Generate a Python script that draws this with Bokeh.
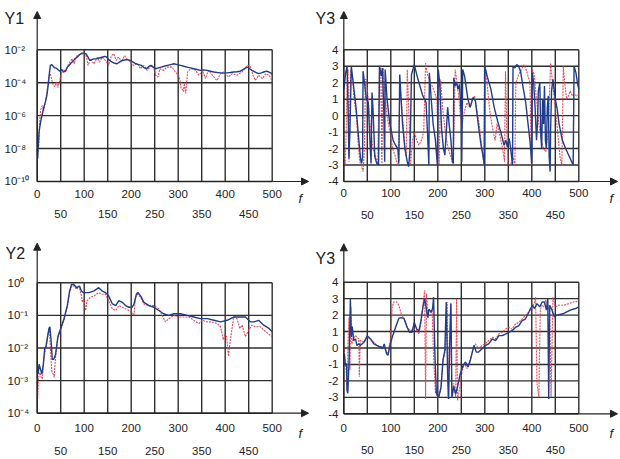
import math
from bokeh.plotting import figure
from bokeh.layouts import column, row
from bokeh.models import Arrow, NormalHead, Range1d
from bokeh.core.properties import value
from bokeh.embed import file_html
from bokeh.resources import INLINE

# ---------------- data ----------------
x_grid = [0, 50, 100, 150, 200, 250, 300, 350, 400, 450, 500]
x_ticks_row1 = [0, 100, 200, 300, 400, 500]
x_ticks_row2 = [50, 150, 250, 350, 450]
y1_ticks = [1e-10, 1e-8, 1e-6, 1e-4, 1e-2]
y2_ticks = [1e-4, 1e-3, 1e-2, 1e-1, 1e0]
y3_ticks = [-4, -3, -2, -1, 0, 1, 2, 3, 4]

# Y1: pairs (f, log10 Y1)
y1_blue = [(1, -8.6), (2, -8.0), (4, -7.0), (6, -6.6), (8.5, -6.2), (11, -5.9), (14, -5.5),
           (18, -5.1), (21, -4.7), (24, -4.0), (26, -3.4), (28, -2.95), (31, -2.9), (34, -3.0),
           (37, -3.1), (40, -3.1), (44, -3.2), (48, -3.3), (52, -3.2), (56, -3.35), (60, -3.3),
           (64, -3.05), (68, -2.95), (72, -2.8), (76, -2.7), (80, -2.55), (85, -2.45), (90, -2.3),
           (95, -2.2), (100, -2.2), (104, -2.25), (108, -2.45), (112, -2.65), (116, -2.6),
           (120, -2.55), (126, -2.55), (132, -2.5), (138, -2.45), (144, -2.4), (148, -2.45),
           (152, -2.6), (157, -2.7), (163, -2.8), (170, -2.85), (175, -2.75), (180, -2.65),
           (186, -2.62), (192, -2.6), (198, -2.65), (204, -2.75), (210, -2.85), (216, -2.9),
           (222, -2.95), (228, -3.1), (233, -3.15), (238, -3.0), (242, -2.95), (247, -3.05),
           (252, -3.15), (258, -3.1), (264, -3.05), (270, -3.0), (277, -2.95), (284, -2.9),
           (291, -2.85), (298, -2.9), (305, -2.95), (312, -3.0), (319, -3.05), (326, -3.1),
           (333, -3.15), (340, -3.2), (347, -3.25), (354, -3.22), (362, -3.25), (369, -3.3),
           (376, -3.35), (383, -3.38), (390, -3.4), (397, -3.42), (404, -3.4), (411, -3.38),
           (418, -3.35), (425, -3.33), (432, -3.3), (438, -3.2), (444, -3.1), (448, -3.05),
           (452, -3.15), (457, -3.25), (464, -3.35), (471, -3.45), (477, -3.4), (482, -3.35),
           (488, -3.3), (493, -3.35), (497, -3.4), (500, -3.5)]
y1_red = [(2, -8.2), (3, -7.9), (5, -6.5), (7, -5.7), (9, -5.5), (11, -5.4), (14, -5.7), (18, -5.1),
          (21, -4.5), (25, -3.55), (28, -3.45), (30, -3.7), (33, -4.05), (37, -4.25), (41, -3.95),
          (44, -4.3), (48, -3.85), (53, -3.25), (57, -3.2), (60, -3.35), (64, -3.1), (67, -2.85),
          (71, -2.7), (74, -2.55), (79, -2.85), (82, -2.5), (85, -2.35), (90, -2.3), (96, -2.25),
          (100, -2.2), (103, -2.25), (106, -2.6), (108, -2.95), (110, -2.8), (113, -2.55),
          (117, -2.7), (121, -2.85), (125, -2.6), (128, -2.45), (133, -2.75), (138, -2.45),
          (142, -2.55), (145, -2.65), (149, -2.8), (152, -2.95), (155, -2.6), (158, -2.35),
          (163, -2.25), (168, -2.65), (171, -2.5), (174, -2.45), (179, -2.75), (183, -2.5),
          (186, -2.35), (191, -2.55), (195, -2.65), (199, -2.75), (203, -2.9), (206, -2.95),
          (210, -2.85), (213, -2.85), (217, -3.0), (220, -3.15), (224, -3.0), (227, -2.95),
          (231, -3.1), (234, -3.25), (240, -3.05), (245, -2.95), (249, -3.2), (252, -3.55),
          (257, -3.65), (261, -3.15), (265, -3.2), (269, -3.25), (276, -3.05), (281, -3.05),
          (287, -3.05), (294, -3.35), (301, -3.55), (304, -3.9), (306, -4.35), (309, -4.4),
          (311, -4.55), (313, -4.05), (316, -4.65), (318, -4.0), (320, -3.35), (325, -3.2),
          (330, -3.15), (337, -3.25), (344, -3.55), (348, -3.4), (351, -3.25), (355, -3.5),
          (358, -3.75), (361, -3.5), (365, -3.25), (370, -3.45), (376, -3.65), (380, -3.8),
          (383, -3.85), (387, -3.6), (390, -3.45), (397, -3.35), (403, -3.55), (408, -3.65),
          (412, -3.5), (415, -3.45), (420, -3.5), (425, -3.55), (430, -3.45), (436, -3.35),
          (440, -3.2), (444, -3.05), (447, -2.95), (450, -2.95), (454, -3.05), (457, -3.3),
          (459, -3.55), (464, -3.85), (468, -3.7), (471, -3.55), (475, -3.65), (479, -3.75),
          (483, -3.6), (486, -3.45), (490, -3.5), (493, -3.55), (497, -3.7), (500, -3.95)]

# Y3 (top right): pairs (f, Y3)
y3a_blue = [(0, 1.6), (4, 2.6), (7, 3.0), (9, 0.5), (11, -2.6), (13, -1.0), (16, 3.0), (20, 2.0),
            (26, 0.5), (32, -1.5), (36, -2.7), (38, -2.9), (40, -2.5), (41, 2.7), (44, 2.0),
            (48, 1.0), (52, 0.8), (56, -1.8), (58, -2.9), (60, 1.4), (62, 0.5), (66, -2.5),
            (70, -2.9), (74, -3.0), (76, 3.0), (80, 2.4), (82, 2.9), (85, 0.5), (87, -2.8),
            (88, 2.8), (92, 1.0), (98, -0.5), (105, -1.5), (110, -1.8), (115, -2.0), (117, -2.9),
            (119, 2.5), (121, 1.5), (125, -0.5), (130, -2.0), (135, -2.8), (138, -3.1), (141, -2.0),
            (144, 2.5), (150, 3.1), (156, 2.4), (162, 1.8), (168, 1.2), (172, 1.0), (175, 0.8),
            (178, -1.0), (181, -3.0), (182, 2.6), (186, 1.0), (190, -0.5), (195, -1.5), (199, -3.0),
            (201, 2.8), (204, 2.0), (208, -0.8), (212, -2.0), (215, -2.4), (218, -1.0), (221, 0.5),
            (224, -0.5), (228, -1.5), (231, -2.8), (233, -2.9), (234, 2.3), (237, 1.8), (240, 2.0),
            (243, 1.6), (246, 1.9), (248, 1.0), (250, 0.0), (251, -2.8), (253, 2.8), (257, 2.4),
            (264, 1.0), (269, 0.5), (275, 1.1), (280, 0.9), (286, -0.5), (292, -1.8), (296, -2.4),
            (299, -3.0), (300, 3.0), (305, 2.4), (313, 1.6), (320, 0.5), (327, -0.3), (334, -1.0),
            (341, -1.8), (345, -1.5), (348, -1.9), (352, -1.4), (355, -2.0), (359, -3.0), (360, 3.0),
            (364, 2.9), (368, 3.1), (372, 3.0), (376, 2.7), (381, 1.8), (387, 0.8), (392, -0.5),
            (396, -1.5), (400, -2.9), (401, 2.6), (404, 2.0), (407, 0.5), (410, -1.5), (412, -0.5),
            (414, 1.5), (417, 2.0), (419, -1.0), (421, -2.0), (423, 1.0), (425, -0.5), (427, 1.8),
            (429, -1.5), (431, -2.0), (433, 0.5), (435, 1.2), (437, -2.5), (439, -3.4), (440, -1.0),
            (442, 1.5), (445, 2.2), (450, 1.0), (454, 0.4), (458, -0.5), (465, -1.5), (472, -2.0),
            (480, -2.5), (488, -3.0), (490, 3.0), (494, 2.6), (497, 2.0), (500, 1.6)]
y3a_red = [(0, -2.5), (3, -3.0), (5, -1.0), (7, 2.0), (9, 2.8), (11, -2.8), (13, 1.0), (15, 2.8),
           (18, 2.5), (22, 1.0), (27, 0.0), (30, -1.5), (34, -2.8), (38, -3.1), (41, -3.4), (44, -2.0),
           (46, 2.2), (48, 2.2), (52, 1.0), (56, -0.5), (62, -2.0), (68, -2.5), (72, -3.0), (76, 3.1),
           (79, 2.5), (81, -3.0), (84, 2.9), (87, 1.5), (92, 0.0), (98, -1.0), (104, -2.0),
           (110, -2.5), (114, -3.0), (117, -2.8), (119, 2.0), (122, 1.0), (126, -0.5), (130, -2.0),
           (133, -2.5), (135, 2.8), (140, -1.0), (142, -3.0), (146, -1.5), (150, -1.0), (155, -1.5),
           (160, -1.8), (165, -1.5), (170, -1.0), (174, 3.2), (178, 2.5), (185, 2.0), (192, 1.5),
           (198, 1.0), (201, -2.0), (203, -3.0), (206, 2.2), (210, 0.5), (216, -1.0), (222, -2.0),
           (228, -2.5), (233, -3.0), (237, 2.8), (241, 2.0), (245, 1.0), (248, 0.0), (252, -0.5),
           (256, 0.2), (262, 0.8), (268, 0.5), (274, 1.0), (278, 1.2), (282, 0.5), (288, -0.5),
           (294, -2.0), (298, -3.0), (299, 3.0), (303, 2.5), (308, 1.0), (312, 0.0), (318, -1.0),
           (322, -1.5), (326, -0.5), (332, -1.2), (338, -2.0), (342, -2.8), (344, 2.7), (347, -1.0),
           (350, -3.0), (355, -3.0), (360, -2.5), (364, -3.0), (366, 2.0), (372, 2.5), (378, 2.8),
           (383, 3.1), (388, 2.8), (392, 2.4), (396, 2.0), (399, -3.0), (401, 2.8), (405, 2.5),
           (410, 1.0), (415, -0.5), (420, -1.5), (425, -2.0), (430, -2.2), (435, -1.0), (440, 3.2),
           (444, 2.0), (450, 0.5), (455, -1.0), (460, -2.5), (464, -3.0), (467, 3.0), (470, 2.0),
           (474, 1.0), (478, 1.2), (482, 1.5), (486, 1.2), (490, 1.3), (495, 1.2), (500, 1.3)]

# Y2: pairs (f, log10 Y2)
y2_blue = [(2, -2.8), (4, -2.5), (7, -2.65), (10, -2.8), (13, -2.5), (16, -2.0), (18, -2.0),
           (21, -1.75), (25, -1.4), (27, -1.35), (30, -1.85), (32, -2.35), (35, -2.35), (39, -2.2),
           (44, -1.65), (50, -1.4), (57, -1.1), (64, -0.7), (69, -0.25), (73, -0.05), (78, -0.05),
           (84, -0.15), (90, -0.1), (94, -0.25), (98, -0.3), (103, -0.3), (110, -0.3), (121, -0.25),
           (131, -0.15), (138, -0.25), (145, -0.3), (152, -0.4), (160, -0.65), (167, -0.7),
           (174, -0.55), (181, -0.6), (188, -0.7), (195, -0.75), (202, -0.75), (206, -0.65),
           (211, -0.35), (214, -0.3), (220, -0.4), (227, -0.6), (238, -0.7), (248, -0.75),
           (259, -0.85), (269, -0.95), (280, -1.0), (291, -0.95), (305, -0.95), (319, -1.0),
           (333, -1.05), (347, -1.1), (362, -1.1), (376, -1.15), (390, -1.2), (404, -1.15),
           (418, -1.05), (432, -1.05), (443, -1.05), (454, -1.2), (461, -1.2), (471, -1.15),
           (482, -1.3), (493, -1.4), (500, -1.5)]
y2_red = [(1, -3.55), (3, -2.9), (6, -2.75), (8.5, -2.9), (11, -2.95), (14, -2.4), (17, -2.1),
          (20, -1.9), (23, -1.55), (26, -1.45), (28, -2.0), (31, -2.7), (34, -2.8), (36, -2.9),
          (39, -2.3), (44, -1.7), (50, -1.45), (57, -1.15), (64, -0.75), (69, -0.3), (73, -0.1),
          (78, -0.1), (84, -0.2), (89, -0.1), (94, -0.4), (96, -0.6), (99, -0.5), (103, -0.85),
          (106, -0.55), (113, -0.45), (121, -0.4), (131, -0.3), (138, -0.35), (145, -0.35),
          (152, -0.55), (160, -0.8), (167, -0.85), (174, -0.7), (181, -0.75), (188, -0.8),
          (195, -0.85), (202, -0.9), (206, -1.0), (209, -0.45), (214, -0.35), (220, -0.45),
          (227, -0.65), (238, -0.7), (248, -0.7), (259, -0.8), (266, -1.0), (273, -1.2),
          (280, -1.1), (291, -1.0), (301, -1.05), (312, -1.05), (323, -1.05), (333, -1.15),
          (344, -1.25), (351, -1.15), (362, -1.2), (372, -1.2), (383, -1.25), (390, -1.35),
          (396, -1.75), (399, -1.6), (403, -1.65), (407, -2.25), (410, -1.85), (415, -1.35),
          (418, -1.05), (425, -1.1), (431, -1.4), (436, -1.3), (443, -1.65), (450, -1.45),
          (457, -1.3), (464, -1.35), (475, -1.35), (486, -1.5), (500, -1.65)]

# Y3 (bottom right): pairs (f, Y3)
y3b_blue = [(1, -0.35), (3.5, -1.05), (6, -0.95), (7, -2.6), (8.5, -2.75), (11, -0.95), (13, 1.5),
            (14, 3.0), (16, 0.65), (18, 1.3), (21, 0.45), (25, 0.55), (28, 0.15), (32, 0.25),
            (35, 0.15), (43, 0.35), (50, 0.75), (57, 0.55), (64, 0.25), (71, 0.15), (78, 0.05),
            (82, -0.05), (86, 0.25), (91, -0.35), (94, -0.45), (98, 0.15), (103, 0.65), (110, 1.25),
            (117, 1.8), (122, 1.85), (128, 1.8), (135, 1.25), (140, 0.95), (145, 0.95), (150, 1.55),
            (155, 1.15), (160, 1.05), (164, 1.65), (169, 2.6), (172, 3.0), (176, 2.3), (179, 1.85),
            (181, 2.35), (186, 2.2), (189, 2.4), (191, 3.1), (194, -0.55), (197, -2.75), (202, -3.0),
            (207, -2.35), (211, -0.75), (215, -0.15), (218, 2.8), (221, -1.75), (223, -3.1),
            (225, -0.15), (228, 2.7), (230, -3.0), (234, -2.35), (238, -2.8), (242, -2.35),
            (248, -1.55), (254, -1.05), (259, -0.85), (264, -1.15), (269, -0.75), (277, 0.15),
            (282, -0.25), (287, -0.25), (294, -0.05), (301, 0.15), (308, 0.25), (316, 0.55),
            (323, 0.45), (330, 0.75), (337, 0.75), (344, 0.85), (351, 0.95), (358, 1.05),
            (365, 1.25), (372, 1.35), (379, 1.65), (386, 1.75), (394, 2.2), (401, 2.6), (406, 2.4),
            (411, 2.7), (417, 2.5), (422, 2.8), (427, 2.8), (431, 2.3), (434, 3.0), (436, -3.1),
            (438, 2.6), (443, 2.3), (448, 1.9), (454, 2.0), (468, 2.1), (482, 2.3), (493, 2.4),
            (500, 2.5)]
y3b_red = [(1, 0.05), (3, -0.95), (5, -1.35), (7, -2.6), (9, 0.45), (11, 1.85), (13, -1.35),
           (15, 2.5), (17, 0.25), (20, 0.55), (24, 0.75), (28, 0.65), (32, 0.55), (33, -1.75),
           (35, 0.45), (43, 0.35), (50, 0.65), (57, 0.55), (64, 0.35), (71, 0.15), (78, 0.1),
           (85, 0.05), (91, -0.25), (94, -0.35), (99, 0.45), (103, 2.5), (106, 2.8), (112, 2.8),
           (117, 2.6), (122, 2.1), (128, 1.8), (135, 1.25), (142, 1.05), (149, 1.15), (155, 1.05),
           (160, 0.85), (164, 1.45), (169, 2.8), (172, 3.5), (174, -3.1), (176, 3.3), (179, 2.0),
           (181, 2.3), (186, 2.1), (188, 2.3), (191, -0.55), (195, -2.7), (200, -3.0), (206, -2.6),
           (211, -0.75), (216, -0.15), (220, 2.8), (222, -3.1), (224, -0.55), (227, 2.7),
           (230, -2.8), (234, -2.15), (238, -3.0), (240, 3.0), (242, -3.2), (247, -2.35),
           (252, -1.35), (257, -0.95), (262, -1.25), (268, -0.95), (275, -0.05), (280, 0.25),
           (287, -0.05), (294, 0.15), (301, 0.25), (308, 0.45), (316, 0.65), (323, 0.55),
           (330, 0.85), (337, 0.95), (344, 1.15), (351, 1.25), (358, 1.15), (365, 1.45),
           (372, 1.55), (379, 1.75), (386, 1.95), (394, 2.2), (401, 2.5), (406, 2.8), (408, 3.1),
           (411, -2.15), (415, -3.0), (418, 2.3), (422, 2.6), (425, 2.5), (430, 2.9), (434, 2.6),
           (438, 2.3), (441, -3.0), (445, 3.1), (450, 2.5), (457, 2.6), (468, 2.6), (479, 2.7),
           (489, 2.8), (500, 2.85)]

# ---------------- styling / layout ----------------
FONT = "Liberation Sans"
TXT = "#222222"
GRID = "#2f2f2f"
BLUE = "#1f3d8e"
RED = "#e2384a"
TICK_SIZE = "11.5px"
PX_PER_F = 0.47
SUP = str.maketrans("-0123456789", "\u207b\u2070\u00b9\u00b2\u00b3\u2074\u2075\u2076\u2077\u2078\u2079")


def split(pairs, log):
    f = [a for a, _ in pairs]
    v = [10 ** b for _, b in pairs] if log else [b for _, b in pairs]
    return f, v


def panel(cfg):
    log = cfg["log"]
    px0, py0, w, h = cfg["box"]
    xz = cfg["x_zero_px"]
    yref_px, yref_val, ppu = cfg["y_ref"]

    def X(px):
        return (px - xz) / PX_PER_F

    def Y(py):
        v = yref_val + (yref_px - py) / ppu
        return 10 ** v if log else v

    p = figure(width=w, height=h, x_range=Range1d(X(px0), X(px0 + w)),
               y_range=Range1d(Y(py0 + h), Y(py0)),
               y_axis_type="log" if log else "linear",
               x_axis_location=None, y_axis_location=None,
               toolbar_location=None, output_backend="svg", min_border=0)
    p.outline_line_color = None
    p.grid.visible = False

    yticks = cfg["yticks"]
    ylo, yhi = yticks[0], yticks[-1]

    # grid
    n = len(x_grid)
    p.segment(x0=x_grid, y0=[ylo] * n, x1=x_grid, y1=[yhi] * n,
              line_color=GRID, line_width=1.4)
    m = len(yticks)
    p.segment(x0=[0] * m, y0=yticks, x1=[500] * m, y1=yticks,
              line_color=GRID, line_width=1.4)

    # data
    rf, rv = split(cfg["red"], log)
    bf, bv = split(cfg["blue"], log)
    p.line(rf, rv, line_color=RED, line_width=1.1, line_dash="2 1", line_alpha=0.9)
    p.line(bf, bv, line_color=BLUE, line_width=1.4)

    # axis arrows
    p.add_layout(Arrow(end=NormalHead(size=7, fill_color=TXT, line_color=TXT, line_width=1),
                       x_start=0, y_start=ylo, x_end=0, y_end=Y(cfg["y_tip_px"]),
                       line_color=TXT, line_width=1.2))
    p.add_layout(Arrow(end=NormalHead(size=7, fill_color=TXT, line_color=TXT, line_width=1),
                       x_start=0, y_start=ylo, x_end=X(cfg["x_tip_px"]), y_end=ylo,
                       line_color=TXT, line_width=1.2))

    # y tick labels
    if log:
        ylabels = ["10" + str(round(math.log10(t))).translate(SUP) for t in yticks]
    else:
        ylabels = [str(t) for t in yticks]
    lab_px, lab_align = cfg["ylab"]
    p.text(x=[X(lab_px)] * m, y=yticks, text=ylabels, text_font=value(FONT),
           text_font_size=TICK_SIZE, text_color=TXT, text_align=lab_align,
           text_baseline="middle")

    # x tick labels (two staggered rows)
    r1, r2 = cfg["xrows_px"]
    p.text(x=x_ticks_row1, y=[Y(r1)] * len(x_ticks_row1), text=[str(t) for t in x_ticks_row1],
           text_font=value(FONT), text_font_size=TICK_SIZE, text_color=TXT,
           text_align="center", text_baseline="middle")
    p.text(x=x_ticks_row2, y=[Y(r2)] * len(x_ticks_row2), text=[str(t) for t in x_ticks_row2],
           text_font=value(FONT), text_font_size=TICK_SIZE, text_color=TXT,
           text_align="center", text_baseline="middle")

    # panel title and axis name
    tx, ty = cfg["title_px"]
    p.text(x=[X(tx)], y=[Y(ty)], text=[cfg["title"]], text_font=value(FONT),
           text_font_size="16px", text_color=TXT, text_align="left",
           text_baseline="alphabetic")
    fx, fy = cfg["f_px"]
    p.text(x=[X(fx)], y=[Y(fy)], text=["f"], text_font=value(FONT),
           text_font_size="13px", text_font_style="italic", text_color=TXT,
           text_align="left", text_baseline="alphabetic")
    return p


configs = [
    dict(title="Y1", log=True, box=(0, 0, 310, 230), x_zero_px=36.7, y_ref=(49.3, -2, 16.46),
         yticks=y1_ticks, y_tip_px=11, x_tip_px=308, ylab=(4, "left"),
         xrows_px=(193, 213), title_px=(4, 18.3), f_px=(298, 198), blue=y1_blue, red=y1_red),
    dict(title="Y3", log=False, box=(310, 0, 310, 230), x_zero_px=343.3, y_ref=(49.3, 4, 16.46),
         yticks=y3_ticks, y_tip_px=11, x_tip_px=617, ylab=(338, "right"),
         xrows_px=(192.5, 214), title_px=(315, 18.3), f_px=(609, 198), blue=y3a_blue, red=y3a_red),
    dict(title="Y2", log=True, box=(0, 230, 310, 229), x_zero_px=36.7, y_ref=(282.3, 0, 32.6),
         yticks=y2_ticks, y_tip_px=242.7, x_tip_px=308, ylab=(7, "left"),
         xrows_px=(427.5, 450), title_px=(5, 253.3), f_px=(298, 433), blue=y2_blue, red=y2_red),
    dict(title="Y3", log=False, box=(310, 230, 310, 229), x_zero_px=343.3, y_ref=(281.7, 4, 16.45),
         yticks=y3_ticks, y_tip_px=243.3, x_tip_px=617, ylab=(338, "right"),
         xrows_px=(427.5, 449), title_px=(315, 258.3), f_px=(609, 433), blue=y3b_blue, red=y3b_red),
]

p1, p2, p3, p4 = [panel(c) for c in configs]
layout = column(row(p1, p2), row(p3, p4))
open("out.html", "w").write(file_html(layout, INLINE))
